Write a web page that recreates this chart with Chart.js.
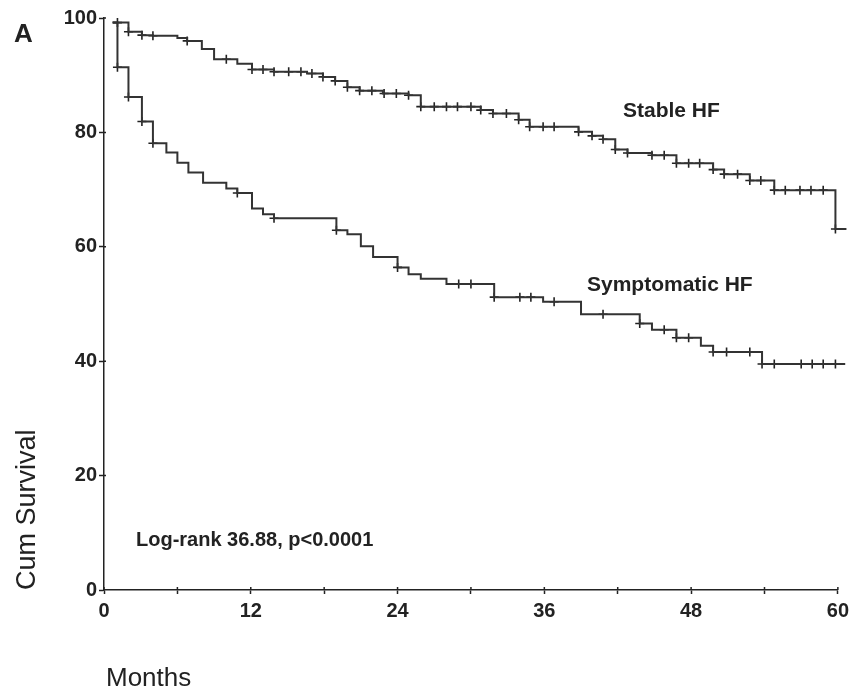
<!DOCTYPE html>
<html><head><meta charset="utf-8">
<script src="https://cdn.jsdelivr.net/npm/chart.js@4.4.0/dist/chart.umd.min.js"></script>
<style>html,body{margin:0;padding:0;background:#fff}#wrap{width:854px;height:687px;position:relative}</style>
</head><body><div id="wrap"><canvas id="c" width="854" height="687"></canvas></div>
<script>
const xTicks = [0, 12, 24, 36, 48, 60];
const yTicks = [0, 20, 40, 60, 80, 100];

const stableMonths = [0.7, 2.0, 3.1, 4.0, 6.0, 6.8, 8.0, 9.0, 10.9, 12.1, 13.9, 16.6, 17.9, 18.9, 19.9, 20.9, 22.8, 24.9, 25.9, 30.8, 31.8, 33.9, 34.8, 38.8, 39.9, 40.8, 41.8, 42.8, 44.8, 46.8, 49.8, 50.7, 52.8, 54.8, 59.8, 60.7];
const stableSurv = [99.2, 97.6, 97.0, 96.9, 96.5, 96.0, 94.6, 92.8, 92.0, 91.0, 90.6, 90.3, 89.7, 89.0, 87.9, 87.3, 86.8, 86.5, 84.5, 83.9, 83.3, 82.2, 81.0, 80.1, 79.4, 78.8, 77.0, 76.4, 76.0, 74.6, 73.5, 72.7, 71.6, 69.9, 63.1, 63.1];
const stableCensor = [1.1, 2.0, 3.1, 4.0, 6.8, 10.0, 12.1, 13.0, 13.9, 15.1, 16.1, 17.0, 17.9, 18.9, 19.9, 20.9, 21.9, 22.9, 23.9, 24.9, 25.9, 27.0, 28.0, 28.9, 30.0, 30.8, 31.8, 32.9, 33.9, 34.8, 35.9, 36.8, 38.8, 39.9, 40.8, 41.8, 42.8, 44.8, 45.8, 46.8, 47.8, 48.7, 49.8, 50.7, 51.8, 52.8, 53.7, 54.8, 55.7, 56.9, 57.8, 58.8, 59.8];

const sympMonths = [0.7, 1.1, 2.0, 3.1, 4.0, 5.1, 6.0, 6.9, 8.1, 10.0, 10.9, 12.1, 13.0, 13.9, 19.0, 19.9, 21.0, 22.0, 24.0, 24.9, 25.9, 28.0, 31.9, 35.9, 39.0, 43.8, 44.8, 46.8, 48.8, 49.8, 53.8, 60.6];
const sympSurv = [99.2, 91.4, 86.2, 81.9, 78.1, 76.5, 74.7, 73.0, 71.2, 70.2, 69.4, 66.7, 65.7, 65.0, 62.9, 62.2, 60.1, 58.2, 56.4, 55.2, 54.4, 53.5, 51.2, 50.4, 48.2, 46.6, 45.5, 44.1, 42.7, 41.6, 39.5, 39.5];
const sympCensor = [1.1, 2.0, 3.1, 4.0, 10.9, 13.9, 19.0, 24.0, 29.0, 30.0, 31.9, 34.0, 34.9, 36.8, 40.8, 43.8, 45.8, 46.8, 47.8, 49.8, 50.9, 52.8, 53.8, 54.8, 57.0, 57.9, 58.8, 59.8];

function survAt(months, surv, t) {
  let v = surv[0];
  for (let i = 0; i < months.length; i++) if (months[i] <= t + 1e-9) v = surv[i];
  return v;
}
const curve = (m, s) => m.map((x, i) => ({x, y: s[i]}));
const censor = (c, m, s) => c.map(x => ({x, y: survAt(m, s, x)}));

const INK = '#222';
const FONT = "'Liberation Sans', Arial, Helvetica, sans-serif";

const textPlugin = {
  id: 'texts',
  afterDraw(chart) {
    const ctx = chart.ctx;
    const xs = chart.scales.x, ys = chart.scales.y;
    ctx.save();
    // inward halves of tick marks
    ctx.strokeStyle = INK; ctx.lineWidth = 1.5;
    for (let v = 0; v <= 60; v += 6) {
      const px = xs.getPixelForValue(v);
      ctx.beginPath(); ctx.moveTo(px, ys.bottom); ctx.lineTo(px, ys.bottom - 3); ctx.stroke();
    }
    for (const v of yTicks) {
      if (v === 0) continue;
      const py = ys.getPixelForValue(v);
      ctx.beginPath(); ctx.moveTo(xs.left, py); ctx.lineTo(xs.left + 2, py); ctx.stroke();
    }
    ctx.fillStyle = INK;
    ctx.textAlign = 'left'; ctx.textBaseline = 'alphabetic';
    ctx.font = 'bold 26px ' + FONT;
    ctx.fillText('A', 14, 42);
    ctx.font = '26px ' + FONT;
    ctx.fillText('Months', 106, 686);
    ctx.font = 'bold 21px ' + FONT;
    ctx.fillText('Stable HF', 623, 117);
    ctx.fillText('Symptomatic HF', 587, 291);
    ctx.font = 'bold 20px ' + FONT;
    ctx.fillText('Log-rank 36.88, p<0.0001', 136, 546);
    ctx.save();
    ctx.translate(35, 590);
    ctx.rotate(-Math.PI / 2);
    ctx.font = '27px ' + FONT;
    ctx.fillText('Cum Survival', 0, 0);
    ctx.restore();
    ctx.restore();
  }
};

const lineDs = (data) => ({
  data, showLine: true, stepped: 'before', borderColor: '#333', borderWidth: 2,
  pointRadius: 0, fill: false, clip: false
});
const censorDs = (data) => ({
  data, showLine: false, pointStyle: 'cross', pointRadius: 4.5, pointBorderWidth: 1.6,
  borderColor: '#222', backgroundColor: '#222', clip: false
});

new Chart(document.getElementById('c'), {
  type: 'scatter',
  data: {
    datasets: [
      lineDs(curve(stableMonths, stableSurv)),
      lineDs(curve(sympMonths, sympSurv)),
      censorDs(censor(stableCensor, stableMonths, stableSurv)),
      censorDs(censor(sympCensor, sympMonths, sympSurv))
    ]
  },
  options: {
    responsive: false, animation: false, devicePixelRatio: 1,
    layout: {padding: {top: 18, right: 14, left: 0, bottom: 0}},
    plugins: {legend: {display: false}, tooltip: {enabled: false}},
    scales: {
      x: {
        type: 'linear', min: 0, max: 60,
        afterFit(s) { s.height = 97; },
        border: {display: true, color: INK, width: 1.5},
        grid: {drawOnChartArea: false, drawTicks: true, tickLength: 4, tickColor: INK, tickWidth: 1.5},
        ticks: {
          stepSize: 6, autoSkip: false, maxRotation: 0, padding: 5, color: INK,
          font: {family: FONT, size: 20, weight: 'bold'},
          callback: v => xTicks.includes(v) ? String(v) : ''
        }
      },
      y: {
        type: 'linear', min: 0, max: 100,
        afterFit(s) { s.width = 104; },
        border: {display: true, color: INK, width: 1.5},
        grid: {drawOnChartArea: false, drawTicks: true, tickLength: 5, tickColor: INK, tickWidth: 1.5},
        ticks: {
          stepSize: 20, padding: 2, color: INK,
          font: {family: FONT, size: 20, weight: 'bold'},
          callback: v => yTicks.includes(v) ? String(v) : ''
        }
      }
    }
  },
  plugins: [textPlugin]
});
</script>
</body></html>
